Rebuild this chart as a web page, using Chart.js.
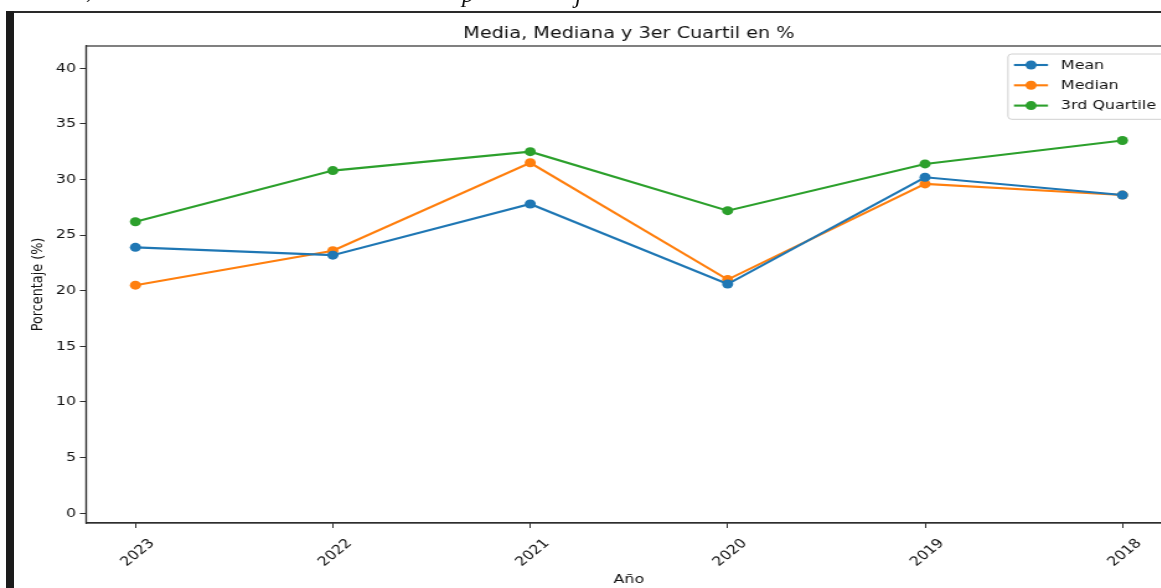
<!DOCTYPE html>
<html>
<head>
<meta charset="utf-8">
<script src="https://cdn.jsdelivr.net/npm/chart.js@4"></script>
<style>
  html, body { margin: 0; padding: 0; background: #fff; width: 1161px; height: 588px; overflow: hidden; }
  #frame { position: absolute; left: 0; top: 0; width: 1161px; height: 588px; overflow: hidden; background: #fff; }
  /* the figure is drawn narrow and widened horizontally */
  #wrap { position: absolute; left: 0; top: 0; width: 1015px; height: 588px; transform: scaleX(1.24); transform-origin: 0 0; }
  #rule { position: absolute; left: 14px; top: 11px; width: 1147px; height: 1.5px; background: #2a2a2a; }
  #bar { position: absolute; left: 6px; top: 11px; width: 8px; height: 577px; background: #1b1b1b; }
  .frag { position: absolute; font: italic 24px "Liberation Serif", serif; color: #111; line-height: 24px; }
</style>
</head>
<body>
<div id="frame">
  <div id="wrap"><canvas id="chart" width="1015" height="588"></canvas></div>
  <span class="frag" style="left:86px; top:-22px;">,</span>
  <span class="frag" style="left:462px; top:-18px;">p</span>
  <span class="frag" style="left:575px; top:-17px;">j</span>
  <div id="rule"></div>
  <div id="bar"></div>
</div>
<script>
// Years on the x axis (most recent first)
const years = ['2023', '2022', '2021', '2020', '2019', '2018'];

// Percentages per year
const meanPct   = [23.9, 23.2, 27.8, 20.6, 30.2, 28.6];
const medianPct = [20.5, 23.6, 31.5, 21.0, 29.6, 28.6];
const q3Pct     = [26.2, 30.8, 32.5, 27.2, 31.4, 33.5];

// Y axis tick values
const yTicks = [0, 5, 10, 15, 20, 25, 30, 35, 40];

const seriesNames  = ['Mean', 'Median', '3rd Quartile'];
const seriesColors = ['#1f77b4', '#ff7f0e', '#2ca02c'];
const seriesValues = [meanPct, medianPct, q3Pct];

const FONT = 'DejaVu Sans';
const TEXT = '#111111';
const SPINE = '#2e2e2e';

const datasets = seriesValues.map((vals, k) => ({
  label: seriesNames[k],
  data: vals.map((v, i) => ({ x: i, y: v })),
  borderColor: seriesColors[k],
  backgroundColor: seriesColors[k],
  pointBackgroundColor: seriesColors[k],
  pointBorderWidth: 0,
  pointRadius: 4.5,
  borderWidth: 2.1,
  tension: 0
}));

// Title, box spines and the in-plot legend
const decorations = {
  id: 'decorations',
  afterDraw(chart) {
    const { ctx, chartArea: a } = chart;
    ctx.save();
    // spines
    ctx.strokeStyle = SPINE;
    ctx.lineWidth = 1.2;
    ctx.strokeRect(a.left, a.top, a.right - a.left, a.bottom - a.top);

    // title
    ctx.fillStyle = TEXT;
    ctx.font = '15.5px "' + FONT + '"';
    ctx.textAlign = 'center';
    ctx.textBaseline = 'alphabetic';
    ctx.fillText('Media, Mediana y 3er Cuartil en %', (a.left + a.right) / 2, 38);

    // legend box
    const bx = 812.9, by = 54, bw = 126.6, bh = 65.3, r = 3;
    ctx.beginPath();
    ctx.moveTo(bx + r, by);
    ctx.lineTo(bx + bw - r, by);
    ctx.arcTo(bx + bw, by, bx + bw, by + r, r);
    ctx.lineTo(bx + bw, by + bh - r);
    ctx.arcTo(bx + bw, by + bh, bx + bw - r, by + bh, r);
    ctx.lineTo(bx + r, by + bh);
    ctx.arcTo(bx, by + bh, bx, by + bh - r, r);
    ctx.lineTo(bx, by + r);
    ctx.arcTo(bx, by, bx + r, by, r);
    ctx.closePath();
    ctx.fillStyle = 'rgba(255,255,255,0.85)';
    ctx.fill();
    ctx.strokeStyle = '#d0d0d0';
    ctx.lineWidth = 1;
    ctx.stroke();

    const rows = [65, 85.3, 105.6];
    chart.data.datasets.forEach((ds, k) => {
      const y = rows[k];
      ctx.strokeStyle = ds.borderColor;
      ctx.lineWidth = 2.1;
      ctx.beginPath();
      ctx.moveTo(817.7, y);
      ctx.lineTo(845.2, y);
      ctx.stroke();
      ctx.fillStyle = ds.borderColor;
      ctx.beginPath();
      ctx.arc(831.5, y, 4.5, 0, Math.PI * 2);
      ctx.fill();
      ctx.fillStyle = TEXT;
      ctx.font = '12.8px "' + FONT + '"';
      ctx.textAlign = 'left';
      ctx.textBaseline = 'middle';
      ctx.fillText(ds.label, 855.6, y + 0.5);
    });
    ctx.restore();
  }
};

new Chart(document.getElementById('chart'), {
  type: 'line',
  data: { datasets },
  options: {
    responsive: false,
    animation: false,
    events: [],
    layout: { padding: { top: 46, right: 70, bottom: 0, left: 0 } },
    plugins: {
      legend: { display: false },
      title: { display: false },
      tooltip: { enabled: false }
    },
    scales: {
      x: {
        type: 'linear',
        min: -0.25,
        max: 5.25,
        afterBuildTicks: s => { s.ticks = years.map((_, i) => ({ value: i })); },
        afterFit: s => { s.height = 65; },
        ticks: {
          callback: v => years[v],
          minRotation: 45,
          maxRotation: 45,
          autoSkip: false,
          labelOffset: 13.5,
          padding: 8,
          color: TEXT,
          font: { family: FONT, size: 12.8 }
        },
        grid: { drawOnChartArea: false, drawTicks: true, tickLength: 5, color: SPINE, lineWidth: 1 },
        border: { color: SPINE, width: 1.2 },
        title: {
          display: true,
          text: 'Año',
          color: TEXT,
          font: { family: FONT, size: 12.8 },
          padding: { top: 0, bottom: 0.5 }
        }
      },
      y: {
        min: -0.88,
        max: 42,
        afterBuildTicks: s => { s.ticks = yTicks.map(v => ({ value: v })); },
        afterFit: s => { s.width = 69.4; },
        ticks: {
          padding: 3,
          color: TEXT,
          font: { family: FONT, size: 12.8 }
        },
        grid: { drawOnChartArea: false, drawTicks: true, tickLength: 5, color: SPINE, lineWidth: 1 },
        border: { color: SPINE, width: 1.2 },
        title: {
          display: true,
          text: 'Porcentaje (%)',
          color: TEXT,
          font: { family: FONT, size: 12.8 },
          padding: { top: 22.5, bottom: 0 }
        }
      }
    }
  },
  plugins: [decorations]
});
</script>
</body>
</html>
